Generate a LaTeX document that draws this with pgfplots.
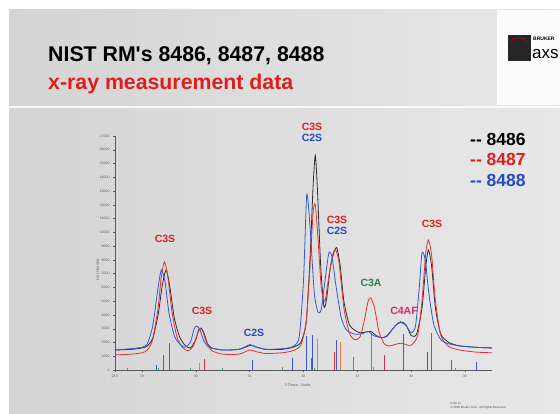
\documentclass[border=0pt]{standalone}
\usepackage{pgfplots}
\pgfplotsset{compat=1.18}
\usepackage{fontspec}
\setmainfont{Liberation Sans}
\definecolor{slide}{RGB}{212,212,212}
\definecolor{slidelight}{RGB}{232,232,232}
\definecolor{c86}{RGB}{45,45,55}
\definecolor{c87}{RGB}{226,50,50}
\definecolor{c88}{RGB}{50,90,210}
\definecolor{lblred}{RGB}{225,30,30}
\definecolor{lblblue}{RGB}{35,75,200}
\definecolor{lblgreen}{RGB}{40,130,80}
\definecolor{lblpink}{RGB}{215,40,110}
\definecolor{stkgreen}{RGB}{60,170,90}
\definecolor{stkorange}{RGB}{240,120,60}
\definecolor{stkpurple}{RGB}{130,100,210}
\definecolor{axgray}{RGB}{90,90,90}

% measured curves, 2-theta vs counts
\pgfplotstableread{
x y
28.50 1450
28.80 1500
29.00 1600
29.10 1750
29.20 2300
29.30 4000
29.38 6200
29.45 7270
29.52 6000
29.60 3800
29.70 2400
29.80 1800
29.90 1600
30.00 2200
30.05 2900
30.10 3050
30.15 2700
30.22 1900
30.30 1600
30.50 1450
30.80 1500
30.95 1700
31.02 1800
31.10 1700
31.30 1500
31.60 1500
31.80 1650
31.95 2000
32.05 3500
32.12 8000
32.18 13500
32.22 15600
32.26 13000
32.32 7500
32.38 4600
32.43 5200
32.50 7500
32.57 8600
32.62 8870
32.68 7600
32.75 5000
32.85 3300
32.95 2900
33.05 2700
33.15 2750
33.25 2800
33.35 2500
33.45 2350
33.55 2450
33.70 3200
33.80 3500
33.90 3300
34.00 2500
34.10 2600
34.20 4500
34.27 7500
34.32 8720
34.38 7500
34.45 4500
34.55 2600
34.70 2000
34.90 1750
35.20 1650
35.50 1600
}\blackdata
\pgfplotstableread{
x y
28.50 1100
28.80 1150
29.00 1250
29.10 1450
29.20 2200
29.30 4500
29.36 6800
29.42 7850
29.48 6800
29.56 4200
29.65 2400
29.75 1650
29.85 1400
29.95 1700
30.02 2500
30.08 3000
30.13 2800
30.20 2000
30.30 1400
30.50 1150
30.80 1150
31.00 1450
31.10 1350
31.30 1200
31.60 1250
31.80 1400
31.95 1800
32.05 3500
32.12 7500
32.18 11500
32.22 12000
32.27 9500
32.33 6000
32.40 5000
32.47 6800
32.55 8500
32.60 8700
32.66 7800
32.75 4500
32.85 2700
32.95 2200
33.05 2400
33.13 3600
33.20 5000
33.25 5230
33.32 4500
33.40 2800
33.50 1900
33.60 1750
33.80 1950
33.90 1850
34.00 1800
34.12 2500
34.20 5000
34.27 8500
34.32 9450
34.38 8300
34.45 5000
34.55 2500
34.70 1700
34.90 1450
35.20 1300
35.50 1250
}\reddata
\pgfplotstableread{
x y
28.50 1450
28.80 1550
29.00 1650
29.10 1900
29.20 3200
29.30 6000
29.36 7270
29.43 6400
29.50 4200
29.60 2500
29.70 1900
29.80 1650
29.90 2000
29.97 3000
30.02 3200
30.08 2900
30.15 2100
30.25 1650
30.50 1450
30.80 1500
30.95 1750
31.00 1850
31.10 1700
31.30 1500
31.60 1550
31.80 1700
31.92 2400
32.00 6500
32.06 12700
32.12 10500
32.20 5600
32.27 4200
32.33 4400
32.40 6500
32.47 8500
32.53 8200
32.60 6200
32.70 3800
32.80 2900
32.95 2600
33.10 2650
33.20 2800
33.30 2500
33.45 2350
33.55 2500
33.70 3200
33.80 3450
33.90 3250
34.00 2700
34.08 3200
34.15 6000
34.20 8500
34.26 8000
34.33 5500
34.42 3300
34.55 2200
34.70 1900
34.90 1750
35.20 1650
35.50 1600
}\bluedata

\begin{document}
\begin{tikzpicture}[x=1pt,y=1pt]
\path[use as bounding box] (0,0) rectangle (560,414);
% slide background
\fill[white] (0,0) rectangle (560,414);
\shade[left color=slide, right color=slidelight] (9,0) rectangle (560,404);
\fill[white!90!slide] (497,404) rectangle (560,309);
\draw[white!85!slide, line width=1.5pt] (9,307) -- (560,307);

% title
\node[anchor=base west, font=\fontsize{21.3}{24}\selectfont\bfseries, text=black, inner sep=0pt] at (48,352) {NIST RM\textquotesingle s 8486, 8487, 8488};
\node[anchor=base west, font=\fontsize{21.3}{24}\selectfont\bfseries, text=lblred, inner sep=0pt] at (48,324) {x-ray measurement data};

% logo
\fill[black!85] (508,379) rectangle (531,353);
\draw[red!70!black, line width=1pt] (511,372) arc (150:30:9);
\node[anchor=base west, font=\fontsize{5}{6}\selectfont\bfseries, inner sep=0pt] at (533,373) {BRUKER};
\node[anchor=base west, font=\fontsize{17}{19}\selectfont, inner sep=0pt] at (532,355) {axs};

% legend
\node[anchor=base west, font=\fontsize{17.5}{20}\selectfont\bfseries, text=black, inner sep=0pt] at (470,268) {-{}- 8486};
\node[anchor=base west, font=\fontsize{17.5}{20}\selectfont\bfseries, text=lblred, inner sep=0pt] at (470,248) {-{}- 8487};
\node[anchor=base west, font=\fontsize{17.5}{20}\selectfont\bfseries, text=lblblue, inner sep=0pt] at (470,227) {-{}- 8488};

\begin{axis}[
  at={(115pt,44pt)}, anchor=south west,
  scale only axis, width=377pt, height=234pt,
  xmin=28.5, xmax=35.5, ymin=0, ymax=17000,
  axis x line*=bottom, axis y line*=left,
  axis line style={axgray, line width=0.5pt},
  tick style={axgray, line width=0.4pt},
  tick align=outside, major tick length=2pt,
  xtick={28.5,29,30,31,32,33,34,35},
  xticklabels={28.5,29,30,31,32,33,34,35},
  ytick={0,1000,...,17000},
  scaled y ticks=false,
  /pgf/number format/1000 sep={},
  /pgf/number format/assume math mode=true,
  tick label style={font=\fontsize{3.5}{4}\selectfont, text=axgray},
  clip=false,
]
% reference pattern lines
\addplot[ycomb, stkgreen, line width=0.6pt, mark=none] coordinates {(28.73,150) (29.30,150) (29.90,150) (30.50,150) (31.60,200) (32.20,180) (33.26,2690) (34.82,150)};
\addplot[ycomb, c87, line width=0.6pt, mark=none] coordinates {(29.40,1100) (29.50,1960) (30.15,800) (32.57,1300) (34.38,2690) (34.75,730)};
\addplot[ycomb, stkorange, line width=0.6pt, mark=none] coordinates {(30.07,500) (32.26,2250) (32.68,2030) (33.30,250)};
\addplot[ycomb, c88, line width=0.6pt, mark=none] coordinates {(29.27,350) (31.05,700) (31.80,870) (32.05,2470) (32.17,2540) (32.60,2180) (34.29,1310) (35.20,550)};
\addplot[ycomb, stkpurple, line width=0.6pt, mark=none] coordinates {(32.93,950)};
\addplot[ycomb, lblpink, line width=0.6pt, mark=none] coordinates {(32.14,870) (33.50,1090) (33.85,2620)};
% measured patterns
\addplot[c86, line width=0.8pt, smooth, tension=0.4, mark=none] table {\blackdata};
\addplot[c87, line width=0.8pt, smooth, tension=0.4, mark=none] table {\reddata};
\addplot[c88, line width=0.8pt, smooth, tension=0.4, mark=none] table {\bluedata};
\end{axis}

% axis titles
\node[rotate=90, font=\fontsize{3.8}{4}\selectfont, text=axgray] at (98,144) {Lin (Counts)};
\node[anchor=west, font=\fontsize{3.8}{4}\selectfont, text=axgray] at (281,29) {2-Theta - Scale};

% phase labels
\begin{scope}[every node/.style={font=\fontsize{10.5}{12}\selectfont\bfseries, inner sep=0pt}]
\node[text=lblred] at (165,175) {C3S};
\node[text=lblred] at (202,103) {C3S};
\node[text=lblblue] at (254,81) {C2S};
\node[text=lblred] at (312,287) {C3S};
\node[text=lblblue] at (312,276) {C2S};
\node[text=lblred] at (337,194) {C3S};
\node[text=lblblue] at (337,183) {C2S};
\node[text=lblgreen] at (371,131) {C3A};
\node[text=lblpink] at (404,103) {C4AF};
\node[text=lblred] at (432,190) {C3S};
\end{scope}

% footer
\node[anchor=west, font=\fontsize{3}{3.5}\selectfont, text=black!70] at (447,11) {Folie 11};
\node[anchor=west, font=\fontsize{3}{3.5}\selectfont, text=black!70] at (447,6) {\copyright{} 2005 Bruker AXS - All Rights Reserved};
\end{tikzpicture}
\end{document}
